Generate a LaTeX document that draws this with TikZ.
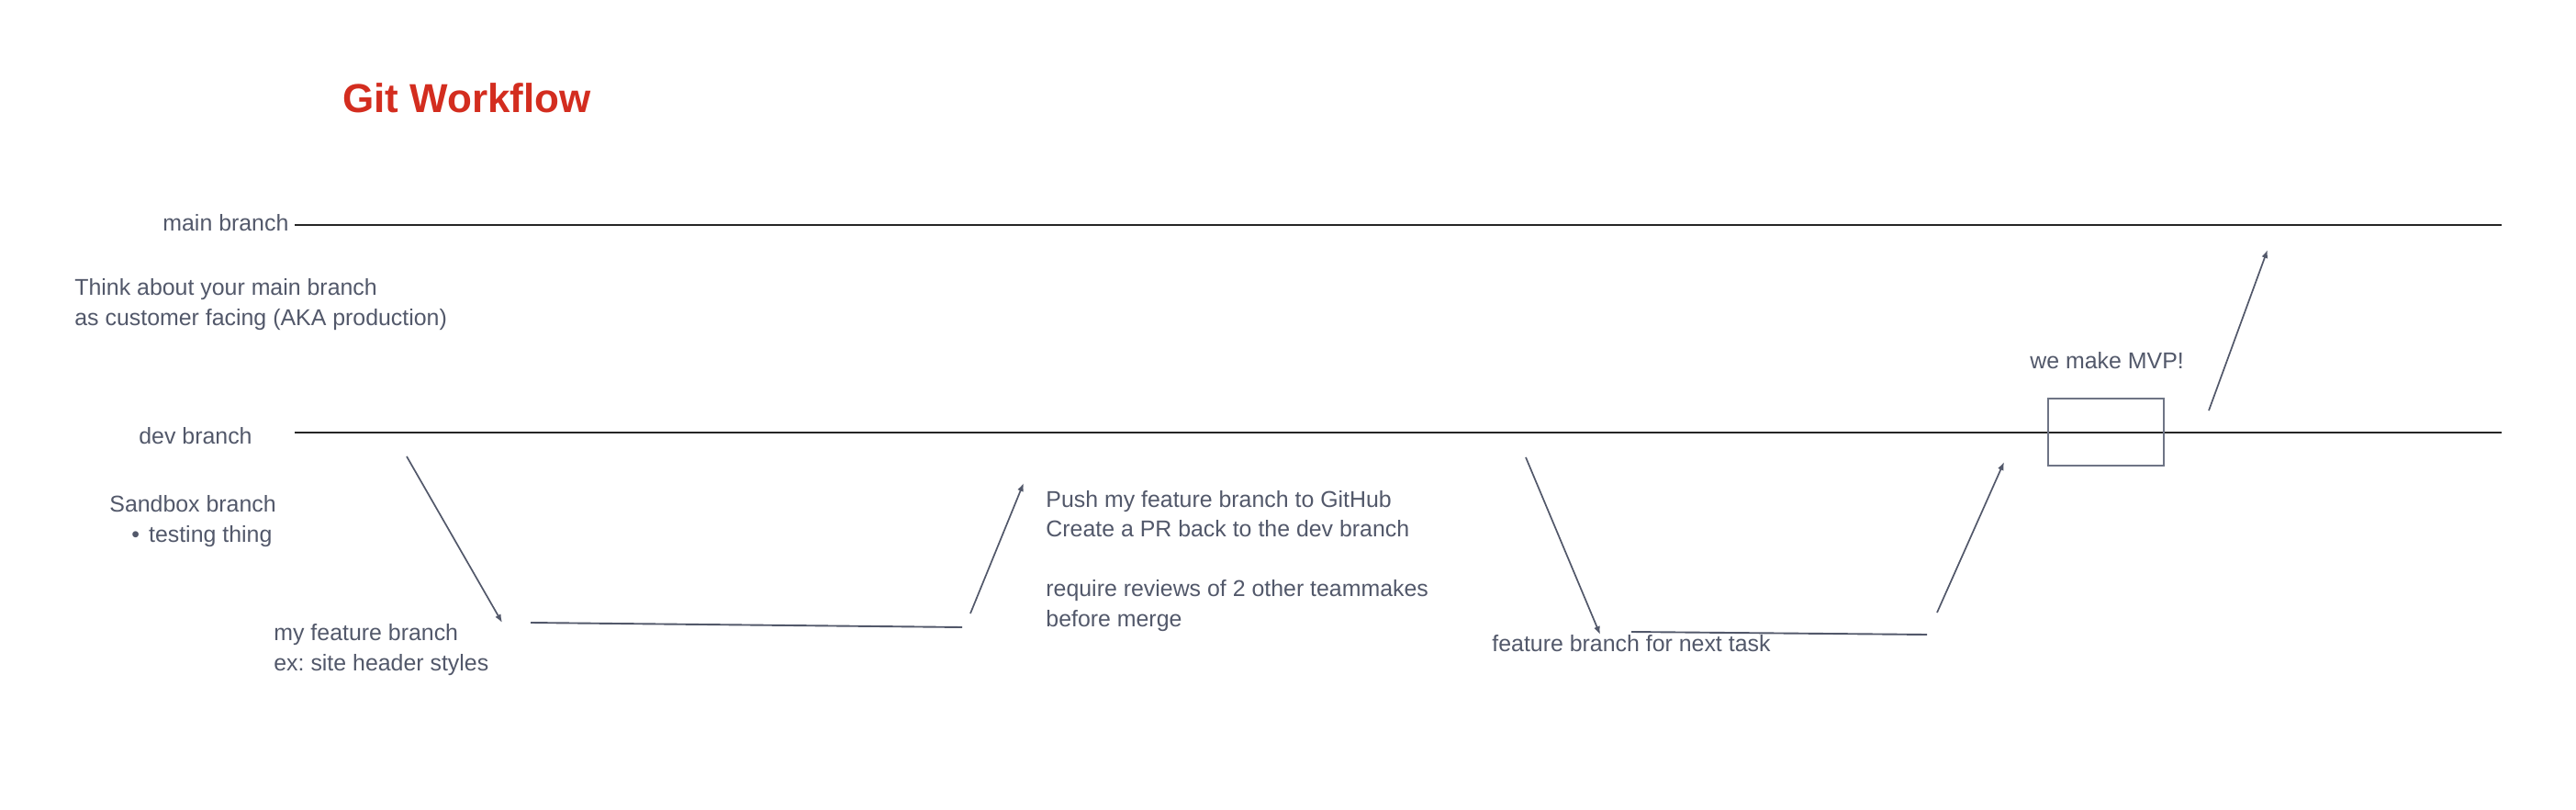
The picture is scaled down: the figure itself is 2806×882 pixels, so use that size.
\documentclass[tikz,border=0pt]{standalone}
\usepackage{fontspec}
\setmainfont{Liberation Sans}
\usetikzlibrary{arrows.meta}
\definecolor{inkgray}{RGB}{82,88,106}
\definecolor{branchblack}{RGB}{38,38,38}
\definecolor{boxgray}{RGB}{110,116,133}
\definecolor{titlered}{RGB}{211,45,31}
\frenchspacing

\begin{document}
\begin{tikzpicture}[x=0.5pt,y=0.5pt,
                    note/.style={inkgray,anchor=base west,align=left,font=\fontsize{12.45pt}{16.25pt}\selectfont},
                    branch/.style={branchblack,line width=1.25pt},
                    hop/.style={inkgray,line width=0.85pt,-{Latex[length=4.5pt,width=3.5pt]}},
                    work/.style={inkgray,line width=0.95pt}]
                          \tikzstyle{every node}+=[inner sep=0pt]
                          \useasboundingbox (0,0) rectangle (2806,-882);
                          % title
                          \node [titlered,anchor=base west,font=\fontsize{22pt}{26pt}\selectfont\bfseries] (title) at (373,-123) {Git Workflow};
                          % main branch (multi-line notes sit on their last line)
                          \node [note] (mainlbl) at (177,-252) {main branch};
                          \coordinate (mainA) at (321,-245);
                          \coordinate (mainB) at (2725,-245);
                          \draw [branch] (mainA) -- (mainB);
                          \node [note] (mainnote) at (81,-354) {Think about your main branch\\as customer facing (AKA production)};
                          % dev branch
                          \node [note] (devlbl) at (151,-483) {dev branch};
                          \coordinate (devA) at (321,-471);
                          \coordinate (devB) at (2725,-471);
                          \draw [branch] (devA) -- (devB);
                          \node [note] (devnote) at (119,-590) {Sandbox branch\\\hspace*{12pt}•\hspace{5pt}testing thing};
                          % first feature branch
                          \coordinate (out1A) at (443,-497);
                          \coordinate (out1B) at (547,-678);
                          \draw [hop] (out1A) -- (out1B);
                          \node [note] (feat1lbl) at (298,-730) {my feature branch\\ex: site header styles};
                          \coordinate (feat1A) at (578,-678);
                          \coordinate (feat1B) at (1048,-683);
                          \draw [work] (feat1A) -- (feat1B);
                          \coordinate (in1A) at (1057,-668);
                          \coordinate (in1B) at (1115,-526);
                          \draw [hop] (in1A) -- (in1B);
                          \node [note] (prnote) at (1139,-682) {Push my feature branch to GitHub\\Create a PR back to the dev branch\\[16.25pt]require reviews of 2 other teammakes\\before merge};
                          % next feature branch
                          \coordinate (out2A) at (1662,-498);
                          \coordinate (out2B) at (1743,-691);
                          \draw [hop] (out2A) -- (out2B);
                          \coordinate (feat2A) at (1777,-688);
                          \coordinate (feat2B) at (2099,-691);
                          \draw [work] (feat2A) -- (feat2B);
                          \node [note] (feat2lbl) at (1625,-709) {feature branch for next task};
                          \coordinate (in2A) at (2110,-667);
                          \coordinate (in2B) at (2183,-503);
                          \draw [hop] (in2A) -- (in2B);
                          % MVP
                          \draw [boxgray,line width=1pt] (2231,-434) rectangle (2357,-507);
                          \node [note] (mvplbl) at (2211,-401) {we make MVP!};
                          \coordinate (relA) at (2406,-447);
                          \coordinate (relB) at (2470,-272);
                          \draw [hop] (relA) -- (relB);
                      \end{tikzpicture}
\end{document}
